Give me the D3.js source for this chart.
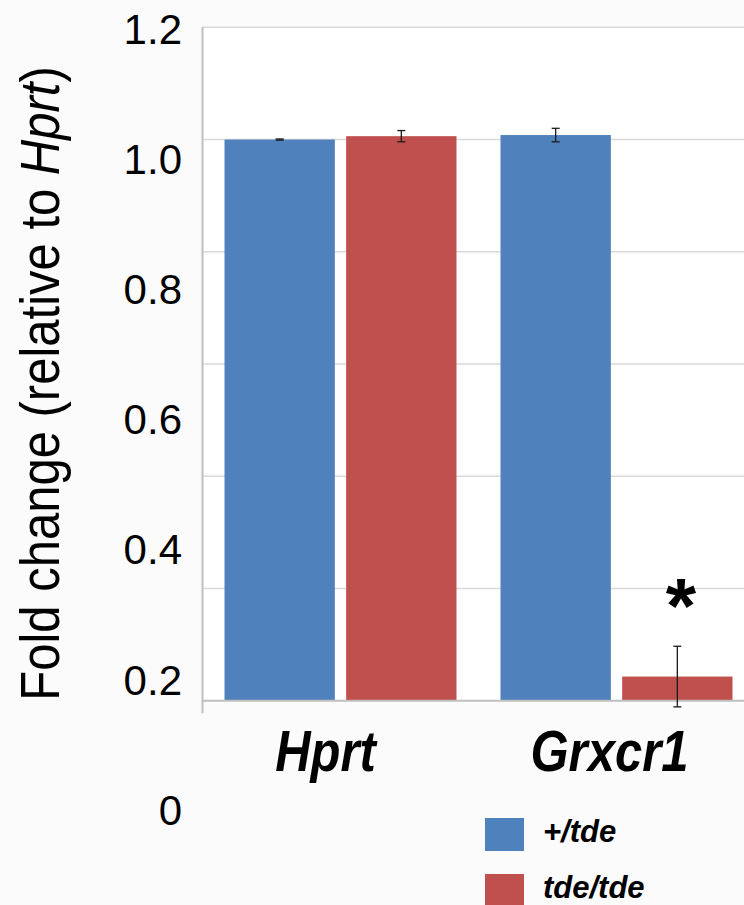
<!DOCTYPE html>
<html>
<head>
<meta charset="utf-8">
<script src="https://cdn.jsdelivr.net/npm/d3@7"></script>
<style>
  html, body { margin: 0; padding: 0; background: #fbfbfb; }
  svg { display: block; }
  text { font-family: "Liberation Sans", Arial, Helvetica, sans-serif; }
</style>
</head>
<body>
<svg id="chart" width="744" height="905"></svg>
<script>
// ---- data ----
const categories = ["Hprt", "Grxcr1"];
const seriesNames = ["+/tde", "tde/tde"];
const seriesColors = ["#4F81BD", "#C0504D"];
const plusTde = [1.000, 1.008];
const tdeTde = [1.006, 0.043];
const plusTdeErr = [0.001, 0.012];
const tdeTdeErr = [0.010, 0.054];
const gridTicks = [0.2, 0.4, 0.6, 0.8, 1.0, 1.2];
const yTickValues = [0, 0.2, 0.4, 0.6, 0.8, 1.0, 1.2];
const yTickLabels = ["0", "0.2", "0.4", "0.6", "0.8", "1.0", "1.2"];
const significance = ["", "*"];

const series = [
  { name: seriesNames[0], values: plusTde, errs: plusTdeErr, color: seriesColors[0] },
  { name: seriesNames[1], values: tdeTde, errs: tdeTdeErr, color: seriesColors[1] }
];

const svg = d3.select("#chart");

// plot geometry
const plotLeft = 202.5, plotRight = 744, plotTop = 27.3, plotBottom = 700.7;

const y = d3.scaleLinear().domain([0, 1.2]).range([plotBottom, plotTop]);
// tick labels in the reference sit on their own (offset) spacing
const yLabel = d3.scaleLinear().domain([0, 1.2]).range([809.5, 29]);

const x0 = d3.scaleBand().domain(categories).range([plotLeft, plotLeft + 552]).padding(0);
const x1 = d3.scaleBand().domain(seriesNames).range([22, 254]).paddingInner(0.093).paddingOuter(0);

// plot area background
svg.append("rect")
  .attr("x", plotLeft).attr("y", plotTop)
  .attr("width", plotRight - plotLeft).attr("height", plotBottom - plotTop)
  .attr("fill", "#ffffff");

// gridlines
svg.append("g").selectAll("line").data(gridTicks).join("line")
  .attr("x1", plotLeft).attr("x2", plotRight)
  .attr("y1", d => y(d)).attr("y2", d => y(d))
  .attr("stroke", "#d9d9d9").attr("stroke-width", 1.5);

// bars
const groups = svg.append("g").selectAll("g").data(series).join("g")
  .attr("fill", d => d.color);
groups.selectAll("rect").data(s => categories.map((c, i) => ({ c, v: s.values[i], e: s.errs[i], s: s.name })))
  .join("rect")
  .attr("x", d => x0(d.c) + x1(d.s))
  .attr("y", d => y(d.v))
  .attr("width", x1.bandwidth())
  .attr("height", d => y(0) - y(d.v));

// axes lines
svg.append("line")
  .attr("x1", plotLeft).attr("x2", plotLeft)
  .attr("y1", plotTop).attr("y2", plotBottom + 12.5)
  .attr("stroke", "#bfbfbf").attr("stroke-width", 2);
svg.append("line")
  .attr("x1", plotLeft).attr("x2", plotRight)
  .attr("y1", plotBottom).attr("y2", plotBottom)
  .attr("stroke", "#bfbfbf").attr("stroke-width", 2);

// error bars
const errData = [];
series.forEach(s => categories.forEach((c, i) => errData.push({ c, s: s.name, v: s.values[i], e: s.errs[i] })));
const eg = svg.append("g").attr("stroke", "#1a1a1a").attr("stroke-width", 1.3);
errData.forEach(d => {
  const cx = x0(d.c) + x1(d.s) + x1.bandwidth() / 2;
  const yt = y(d.v + d.e), yb = y(d.v - d.e);
  eg.append("line").attr("x1", cx).attr("x2", cx).attr("y1", yt).attr("y2", yb);
  eg.append("line").attr("x1", cx - 4).attr("x2", cx + 4).attr("y1", yt).attr("y2", yt);
  eg.append("line").attr("x1", cx - 4).attr("x2", cx + 4).attr("y1", yb).attr("y2", yb);
});

// significance asterisk
svg.append("g").selectAll("text").data(categories).join("text")
  .attr("x", c => x0(c) + x1(seriesNames[1]) + x1.bandwidth() / 2 + 3.5)
  .attr("y", (c, i) => y(tdeTde[i] + tdeTdeErr[i]) - 13)
  .attr("text-anchor", "middle")
  .attr("font-size", 78).attr("font-weight", "bold")
  .attr("fill", "#000")
  .text((c, i) => significance[i]);

// y tick labels
svg.append("g").selectAll("text").data(yTickValues).join("text")
  .attr("x", 182).attr("y", d => yLabel(d))
  .attr("dy", "0.36em")
  .attr("text-anchor", "end")
  .attr("font-size", 42)
  .attr("fill", "#000")
  .text((d, i) => yTickLabels[i]);

// y axis title
const yt = svg.append("text")
  .attr("transform", "translate(59,383.5) rotate(-90) scale(1,1.12)")
  .attr("text-anchor", "middle")
  .attr("font-size", 49)
  .attr("fill", "#000");
yt.append("tspan").text("Fold change (relative to ");
yt.append("tspan").attr("font-style", "italic").text("Hprt");
yt.append("tspan").text(")");

// category labels
const catOffset = [-15, -7];
svg.append("g").selectAll("text").data(categories).join("text")
  .attr("transform", (c, i) => `translate(${x0(c) + x0.bandwidth() / 2 + catOffset[i]},771) scale(1,1.16)`)
  .attr("text-anchor", "middle")
  .attr("font-size", 49).attr("font-weight", "bold").attr("font-style", "italic")
  .attr("fill", "#000")
  .text(c => c);

// legend
const lg = svg.append("g");
const legendY = [818, 874];
series.forEach((s, i) => {
  lg.append("rect").attr("x", 485).attr("y", legendY[i]).attr("width", 39).attr("height", 33).attr("fill", s.color);
  lg.append("text").attr("x", 543).attr("y", legendY[i] + 24)
    .attr("font-size", 31).attr("font-weight", "bold").attr("font-style", "italic")
    .attr("fill", "#000").text(s.name);
});
</script>
</body>
</html>
